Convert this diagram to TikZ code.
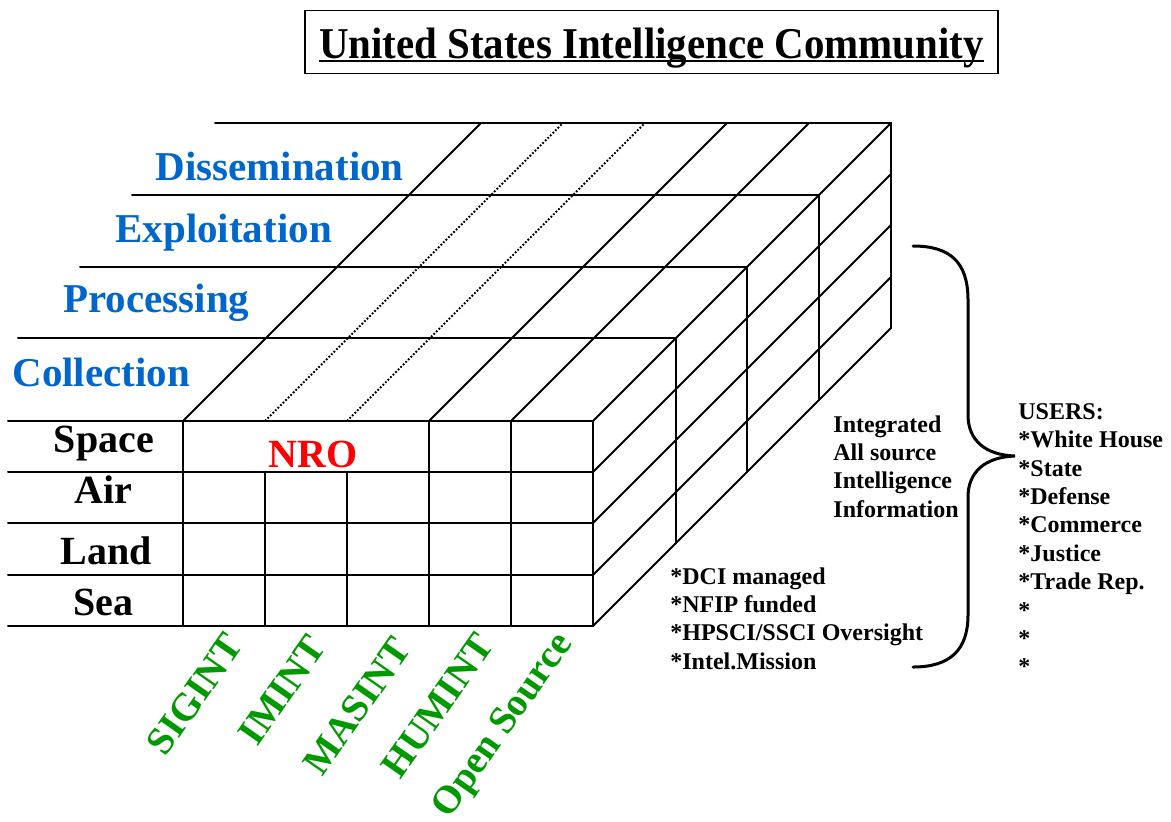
\documentclass[tikz,border=0pt]{standalone}
\usepackage{fontspec}
\usepackage{graphicx}
\setmainfont{Liberation Serif}
\definecolor{layerblue}{RGB}{0,102,204}
\definecolor{intgreen}{RGB}{0,153,0}
\definecolor{nrored}{RGB}{255,0,0}
\begin{document}
\begin{tikzpicture}[x=0.5pt,y=-0.5pt,
  edge/.style={line width=1pt, line cap=round, line join=round},
  hiddenedge/.style={line width=0.9pt, dash pattern=on 0.9pt off 0.9pt},
  bracestyle/.style={line width=1.5pt, line cap=round},
  layerlabel/.style={font=\fontsize{20.5pt}{24pt}\selectfont\bfseries, text=layerblue, anchor=base west, inner sep=0pt},
  rowlabel/.style={font=\fontsize{20pt}{24pt}\selectfont\bfseries, anchor=base, inner sep=0pt},
  intlabel/.style={font=\fontsize{19.5pt}{24pt}\selectfont\bfseries, text=intgreen, rotate=55, anchor=east, inner sep=0pt},
  note/.style={font=\fontsize{12pt}{14.2pt}\selectfont\bfseries, align=left, anchor=north west, inner sep=0pt},
]
\useasboundingbox (0,0) rectangle (1171,821);

% title
\node[draw, line width=0.75pt, inner sep=0pt, text height=23.75pt, text depth=7.75pt,
      minimum width=346.5pt, anchor=base, font=\fontsize{22pt}{26pt}\selectfont\bfseries]
  (title) at (651.5,58)
  {\sbox0{\scalebox{0.93}[1]{United States Intelligence Community}}\rlap{\rule[-2pt]{\wd0}{0.9pt}}\usebox0};

% layer top lines (front face top and layer boundaries)
\foreach \d/\l in {0/8, 83/18, 154/80, 226/132, 298/215}
  \draw[edge] (\l,421-\d) -- (593+\d,421-\d);
% right side verticals
\foreach \d in {0,83,154,226,298}
  \draw[edge] (593+\d,421-\d) -- (593+\d,626-\d);
% front face rows
\foreach \y in {472,523,575,626}
  \draw[edge] (8,\y) -- (593,\y);
% front face columns
\foreach \x in {183,429,511}
  \draw[edge] (\x,421) -- (\x,626);
\foreach \x in {265,347}
  \draw[edge] (\x,472) -- (\x,626);
% top face diagonals
\foreach \x in {183,429,511,593}
  \draw[edge] (\x,421) -- (\x+298,123);
\foreach \x in {265,347}
  \draw[hiddenedge] (\x,421) -- (\x+298,123);
% right face row diagonals
\foreach \y in {472,523,575,626}
  \draw[edge] (593,\y) -- (891,\y-298);

% layer labels
\node[layerlabel] (collection) at (12,386) {Collection};
\node[layerlabel] (processing) at (63,312) {Processing};
\node[layerlabel] (exploitation) at (115,242) {Exploitation};
\node[layerlabel] (dissemination) at (155,180) {Dissemination};

% row labels
\node[rowlabel] (space) at (104,452) {Space};
\node[rowlabel] (air) at (103,503) {Air};
\node[rowlabel] (land) at (106,564) {Land};
\node[rowlabel] (sea) at (103,615) {Sea};

\node[rowlabel, text=nrored] (nro) at (313,467) {NRO};

% intelligence disciplines
\node[intlabel] (sigint) at (234,638) {SIGINT};
\node[intlabel] (imint) at (317,640) {IMINT};
\node[intlabel] (masint) at (402,642) {MASINT};
\node[intlabel] (humint) at (485,638) {HUMINT};
\node[intlabel] (osint) at (566,638) {Open Source};

% notes
\node[note] (integrated) at (833,415) {Integrated\\All source\\Intelligence\\Information};
\node[note] (dci) at (670,567) {*DCI managed\\*NFIP funded\\*HPSCI/SSCI Oversight\\*Intel.Mission};
\node[note] (users) at (1018,403) {USERS:\\*White House\\*State\\*Defense\\*Commerce\\*Justice\\*Trade Rep.\\*\\*\\*};

% brace
\draw[bracestyle] (913,246) .. controls (950,246) and (968,262) .. (968,300) -- (968,415)
  .. controls (968,440) and (985,455) .. (1015,456)
  .. controls (985,457) and (968,472) .. (968,497) -- (968,615)
  .. controls (968,650) and (950,667) .. (913,667);
\end{tikzpicture}
\end{document}
